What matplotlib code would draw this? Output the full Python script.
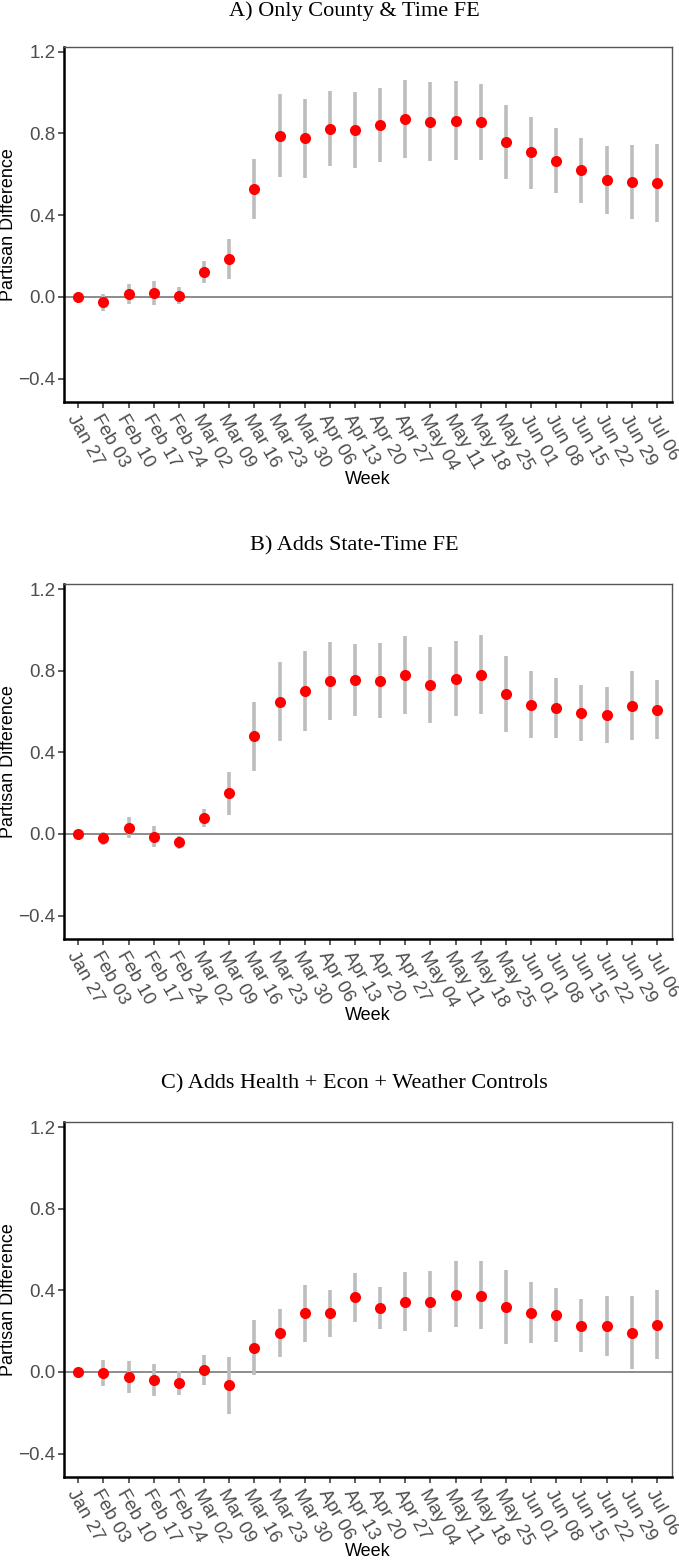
import matplotlib
matplotlib.use("Agg")
import matplotlib.pyplot as plt
import numpy as np

weeks = ["Jan 27", "Feb 03", "Feb 10", "Feb 17", "Feb 24", "Mar 02", "Mar 09",
         "Mar 16", "Mar 23", "Mar 30", "Apr 06", "Apr 13", "Apr 20", "Apr 27",
         "May 04", "May 11", "May 18", "May 25", "Jun 01", "Jun 08", "Jun 15",
         "Jun 22", "Jun 29", "Jul 06"]

titles = ["A) Only County & Time FE",
          "B) Adds State-Time FE",
          "C) Adds Health + Econ + Weather Controls"]

est_a = [0.0, -0.026, 0.016, 0.021, 0.005, 0.122, 0.185, 0.529, 0.789, 0.779,
         0.824, 0.816, 0.841, 0.870, 0.856, 0.860, 0.856, 0.758, 0.707, 0.666,
         0.619, 0.573, 0.560, 0.558]
lo_a = [0.0, -0.068, -0.035, -0.040, -0.037, 0.070, 0.085, 0.382, 0.586, 0.584,
        0.640, 0.630, 0.660, 0.682, 0.665, 0.671, 0.671, 0.578, 0.529, 0.509,
        0.460, 0.408, 0.379, 0.367]
hi_a = [0.0, 0.013, 0.065, 0.078, 0.046, 0.175, 0.284, 0.676, 0.993, 0.971,
        1.009, 1.001, 1.022, 1.060, 1.050, 1.055, 1.040, 0.939, 0.883, 0.829,
        0.780, 0.741, 0.745, 0.750]

est_b = [0.0, -0.019, 0.031, -0.015, -0.042, 0.078, 0.199, 0.478, 0.648, 0.699,
         0.749, 0.753, 0.751, 0.779, 0.730, 0.761, 0.780, 0.686, 0.632, 0.616,
         0.594, 0.583, 0.629, 0.607]
lo_b = [0.0, -0.052, -0.019, -0.062, -0.076, 0.033, 0.093, 0.310, 0.457, 0.506,
        0.557, 0.576, 0.570, 0.586, 0.544, 0.576, 0.586, 0.501, 0.469, 0.469,
        0.456, 0.447, 0.462, 0.465]
hi_b = [0.0, 0.011, 0.081, 0.037, -0.008, 0.122, 0.304, 0.648, 0.841, 0.898,
        0.942, 0.931, 0.934, 0.970, 0.918, 0.945, 0.973, 0.872, 0.797, 0.764,
        0.731, 0.722, 0.800, 0.754]

est_c = [0.0, -0.003, -0.026, -0.040, -0.055, 0.011, -0.065, 0.119, 0.190, 0.287,
         0.287, 0.366, 0.313, 0.342, 0.344, 0.379, 0.374, 0.318, 0.290, 0.277,
         0.227, 0.226, 0.192, 0.232]
lo_c = [0.0, -0.069, -0.103, -0.118, -0.115, -0.063, -0.205, -0.016, 0.071, 0.148,
        0.171, 0.245, 0.208, 0.200, 0.194, 0.218, 0.208, 0.135, 0.140, 0.147,
        0.097, 0.077, 0.013, 0.061]
hi_c = [0.0, 0.060, 0.053, 0.039, 0.003, 0.085, 0.074, 0.255, 0.310, 0.424,
        0.403, 0.487, 0.418, 0.489, 0.495, 0.542, 0.542, 0.498, 0.439, 0.410,
        0.358, 0.373, 0.371, 0.402]

y_ticks = [-0.4, 0.0, 0.4, 0.8, 1.2]
y_ticklabels = ["-0.4", "0.0", "0.4", "0.8", "1.2"]

panels = [(est_a, lo_a, hi_a), (est_b, lo_b, hi_b), (est_c, lo_c, hi_c)]

W, H = 679, 1560
fig = plt.figure(figsize=(W / 100, H / 100), dpi=100)

sans = ["Liberation Sans Narrow", "Liberation Sans", "DejaVu Sans"]
serif = ["Liberation Serif", "DejaVu Serif"]

ax_px = [(46.7, 402), (584, 939), (1122, 1477)]
left_px, right_px = 63.7, 672
title_px = [11, 546, 1084]
week_px = [480, 1016, 1551]

x = np.arange(len(weeks))
for i, ((est, lo, hi), (top, bot)) in enumerate(zip(panels, ax_px)):
    ax = fig.add_axes([left_px / W, 1 - bot / H, (right_px - left_px) / W, (bot - top) / H])
    ax.axhline(0, color="#8c8c8c", lw=1.4, zorder=1)
    ax.vlines(x, lo, hi, color="#bdbdbd", lw=2.6, zorder=2)
    ax.plot(x, est, "o", color="#ff0000", markersize=8, markeredgewidth=0, zorder=3)
    ax.set_xlim(-0.58, 23.6)
    ax.set_ylim(-0.515, 1.225)
    ax.set_yticks(y_ticks)
    ax.set_yticklabels([t.replace("-", "\u2212") for t in y_ticklabels],
                       family=sans, fontsize=13.5, color="#4d4d4d")
    ax.set_xticks(x)
    ax.set_xticklabels(weeks, rotation=-60, ha="left", va="top",
                       rotation_mode="anchor", family=sans, fontsize=13.5,
                       color="#4d4d4d")
    ax.tick_params(axis="both", direction="out", length=4, width=1.1, color="#333333")
    ax.tick_params(axis="x", pad=3)
    ax.tick_params(axis="y", pad=2)
    for s in ["left", "bottom"]:
        ax.spines[s].set_linewidth(1.8)
        ax.spines[s].set_color("black")
    for s in ["top", "right"]:
        ax.spines[s].set_linewidth(1.0)
        ax.spines[s].set_color("#555555")
    ax.set_ylabel("Partisan Difference", family=sans, fontsize=13, color="black")
    ax.yaxis.set_label_coords((17 - left_px) / (right_px - left_px), 0.5)
    fig.text((left_px + right_px) / 2 / W, 1 - week_px[i] / H, "Week",
             family=sans, fontsize=13, ha="center", va="center")
    fig.text(354 / W, 1 - title_px[i] / H, titles[i], family=serif,
             fontsize=16, ha="center", va="center")

fig.savefig("out.png", dpi=100)
